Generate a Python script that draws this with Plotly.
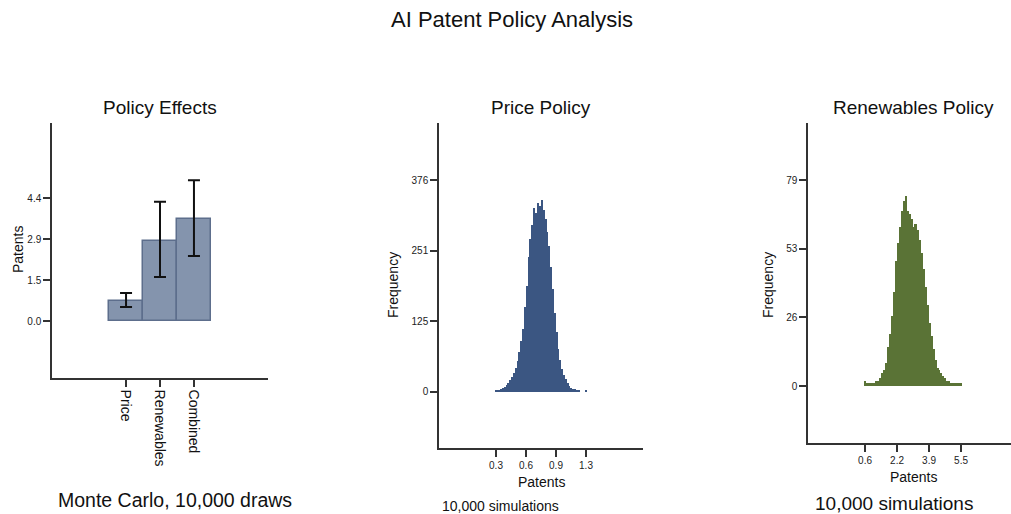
import plotly.graph_objects as go

# ---------------- data ----------------
policies = ["Price", "Renewables", "Combined"]
effect_mean = [0.73, 2.88, 3.65]
effect_hi = [1.00, 4.27, 5.04]
effect_lo = [0.50, 1.57, 2.33]

effect_yticks = [0.0, 1.4667, 2.9333, 4.4]
effect_yticktext = ["0.0", "1.5", "2.9", "4.4"]

price_bins = [0.28, 0.30, 0.32, 0.34, 0.36, 0.38, 0.40, 0.42, 0.44, 0.46,
              0.48, 0.50, 0.52, 0.54, 0.56, 0.58, 0.60, 0.62, 0.64, 0.66,
              0.68, 0.70, 0.72, 0.74, 0.76, 0.78, 0.80, 0.82, 0.84, 0.86,
              0.88, 0.90, 0.92, 0.94, 0.96, 0.98, 1.00, 1.02, 1.04, 1.06,
              1.08, 1.10, 1.12, 1.14, 1.16, 1.18, 1.26]
price_counts = [3, 3, 3, 4, 6, 9, 12, 16, 20, 26,
                33, 42, 55, 70, 90, 112, 150, 188, 240, 272,
                296, 326, 318, 336, 330, 341, 322, 306, 284, 258,
                221, 182, 140, 106, 76, 56, 41, 30, 22, 15,
                10, 7, 5, 4, 3, 2, 2]
price_xticks = [0.28, 0.6067, 0.9333, 1.26]
price_xticktext = ["0.3", "0.6", "0.9", "1.3"]
price_yticks = [0, 125.33, 250.67, 376]
price_yticktext = ["0", "125", "251", "376"]

ren_bins = [0.6, 0.7, 0.8, 0.9, 1.0, 1.1, 1.2, 1.3, 1.4, 1.5,
            1.6, 1.7, 1.8, 1.9, 2.0, 2.1, 2.2, 2.3, 2.4, 2.5,
            2.6, 2.7, 2.8, 2.9, 3.0, 3.1, 3.2, 3.3, 3.4, 3.5,
            3.6, 3.7, 3.8, 3.9, 4.0, 4.1, 4.2, 4.3, 4.4, 4.5,
            4.6, 4.7, 4.8, 4.9, 5.0, 5.1, 5.2, 5.3, 5.4, 5.5]
ren_counts = [2, 1, 1, 1, 1, 1, 2, 2, 3, 5,
              6, 9, 15, 20, 27, 36, 48, 55, 61, 67,
              71, 73, 67, 66, 64, 61, 62, 60, 56, 51,
              45, 38, 31, 24, 19, 14, 10, 7, 6, 5,
              4, 3, 2, 2, 1, 1, 1, 1, 1, 1]
ren_xticks = [0.6, 2.233, 3.867, 5.5]
ren_xticktext = ["0.6", "2.2", "3.9", "5.5"]
ren_yticks = [0, 26.33, 52.67, 79]
ren_yticktext = ["0", "26", "53", "79"]

# ---------------- figure ----------------
W, H = 1011, 514
FONT = "Liberation Sans, Arial, Helvetica, sans-serif"
AX = "#333333"

fig = go.Figure()

fig.add_trace(go.Bar(
    x=policies, y=effect_mean, width=1.0,
    marker=dict(color="#8494ad", line=dict(color="#5d6e8c", width=1.5)),
    error_y=dict(type="data", symmetric=False,
                 array=[h - m for h, m in zip(effect_hi, effect_mean)],
                 arrayminus=[m - l for m, l in zip(effect_mean, effect_lo)],
                 color="#111111", thickness=2, width=6),
    xaxis="x", yaxis="y", showlegend=False))

fig.add_trace(go.Bar(
    x=price_bins, y=price_counts, width=0.02,
    marker=dict(color="#3b5682", line=dict(width=0)),
    xaxis="x2", yaxis="y2", showlegend=False))

fig.add_trace(go.Bar(
    x=ren_bins, y=ren_counts, width=0.1,
    marker=dict(color="#5a7336", line=dict(width=0)),
    xaxis="x3", yaxis="y3", showlegend=False))


def px_x(p):
    return p / W


def px_y(p):
    return 1 - p / H


common = dict(showline=True, linecolor=AX, linewidth=1.5, ticks="outside",
              ticklen=7, tickwidth=1.5, tickcolor=AX, showgrid=False,
              zeroline=False, tickfont=dict(size=10, color="#222", family=FONT))

fig.update_layout(
    width=W, height=H, margin=dict(l=0, r=0, t=0, b=0),
    paper_bgcolor="white", plot_bgcolor="white",
    font=dict(family=FONT, color="#111"),
    bargap=0,
    xaxis=dict(domain=[px_x(52), px_x(268)], anchor="y", type="category",
               range=[-2.18, 4.18], tickangle=90,
               **{**common, "tickfont": dict(size=14, color="#111", family=FONT)}),
    yaxis=dict(domain=[px_y(378), px_y(123)], anchor="x", range=[-2.039, 7.084],
               tickvals=effect_yticks, ticktext=effect_yticktext, **common),
    xaxis2=dict(domain=[px_x(439), px_x(643)], anchor="y2", range=[-0.3406, 1.8806],
                tickvals=price_xticks, ticktext=price_xticktext, **common),
    yaxis2=dict(domain=[px_y(448), px_y(123)], anchor="x2", range=[-100.0, 477.3],
                tickvals=price_yticks, ticktext=price_yticktext, **common),
    xaxis3=dict(domain=[px_x(808), 1.0], anchor="y3", range=[-2.31, 8.05],
                tickvals=ren_xticks, ticktext=ren_xticktext, **common),
    yaxis3=dict(domain=[px_y(443), px_y(123)], anchor="x3", range=[-21.86, 100.86],
                tickvals=ren_yticks, ticktext=ren_yticktext, **common),
)

texts = [
    ("AI Patent Policy Analysis", 512, 20, 22, 0),
    ("Policy Effects", 160, 107, 19, 0),
    ("Price Policy", 541, 107, 19, 0),
    ("Renewables Policy", 913, 107, 19, 0),
    ("Patents", 18, 250, 14, -90),
    ("Frequency", 393, 285, 14, -90),
    ("Frequency", 768, 285, 14, -90),
    ("Patents", 541, 482, 14, 0),
    ("Patents", 913, 477, 14, 0),
    ("Monte Carlo, 10,000 draws", 175, 500, 19.5, 0),
    ("10,000 simulations", 500, 506, 14, 0),
    ("10,000 simulations", 894, 503, 19, 0),
]
for t, x, y, s, a in texts:
    fig.add_annotation(text=t, x=px_x(x), y=px_y(y), xref="paper", yref="paper",
                       xanchor="center", yanchor="middle", showarrow=False,
                       textangle=a, font=dict(size=s, color="#111", family=FONT))

fig.write_html("out.html")
